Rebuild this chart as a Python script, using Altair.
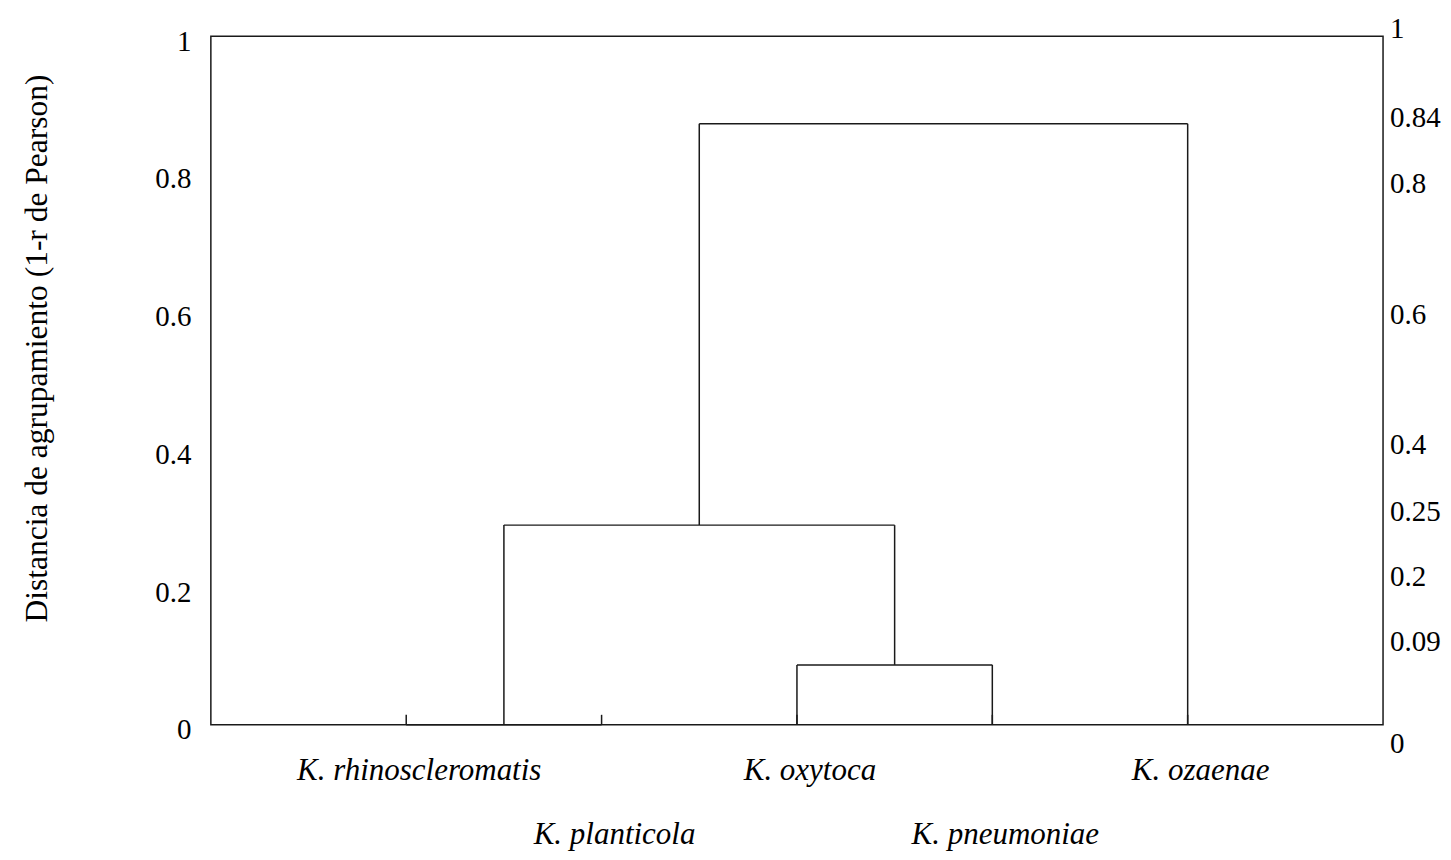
import altair as alt
import pandas as pd

# ---- data -------------------------------------------------------------
leaf_names = ["K. rhinoscleromatis", "K. planticola", "K. oxytoca",
              "K. pneumoniae", "K. ozaenae"]
leaf_row = [0, 1, 0, 1, 0]          # label row under the axis
# merges: children ids (0-4 leaves, 5.. clusters in merge order)
merge_left = [0, 2, 5, 7]
merge_right = [1, 3, 6, 4]
merge_height = [0.0, 0.087, 0.29, 0.873]
leaf_stub = 0.0145

left_ticks = [0, 0.2, 0.4, 0.6, 0.8, 1]
right_label_text = ["1", "0.84", "0.8", "0.6", "0.4", "0.25", "0.2", "0.09", "0"]
right_label_pos = [1.01, 0.882, 0.785, 0.595, 0.406, 0.309, 0.215, 0.120, -0.028]

# ---- build dendrogram segments ----------------------------------------
pos = {i: float(i) for i in range(len(leaf_names))}
hgt = {i: 0.0 for i in range(len(leaf_names))}
segs = []
for i in range(len(leaf_names)):
    segs.append(dict(x=pos[i], x2=pos[i], y=0.0, y2=leaf_stub))
for k, (a, b, h) in enumerate(zip(merge_left, merge_right, merge_height)):
    cid = len(leaf_names) + k
    segs.append(dict(x=pos[a], x2=pos[a], y=hgt[a], y2=h))
    segs.append(dict(x=pos[b], x2=pos[b], y=hgt[b], y2=h))
    segs.append(dict(x=pos[a], x2=pos[b], y=h, y2=h))
    pos[cid] = (pos[a] + pos[b]) / 2
    hgt[cid] = h
seg_df = pd.DataFrame(segs)

labels_df = pd.DataFrame({"name": leaf_names, "idx": list(range(len(leaf_names))),
                          "row": leaf_row, "y": [0.0] * len(leaf_names)})
right_df = pd.DataFrame({"text": right_label_text, "pos": right_label_pos})

FONT = "Liberation Serif"
xs = alt.Scale(domain=[-1, 5], nice=False, zero=False)
ys = alt.Scale(domain=[0, 1], nice=False, zero=False)

lines = alt.Chart(seg_df).mark_rule(color="#1a1a1a", strokeWidth=1.5).encode(
    x=alt.X("x:Q", scale=xs, axis=None),
    x2="x2:Q",
    y=alt.Y("y:Q", scale=ys, axis=alt.Axis(
        values=left_ticks, format="~g", title="Distancia de agrupamiento (1-r de Pearson)",
        grid=False, ticks=False, tickSize=0, domain=False,
        labelFont=FONT, labelFontSize=29, labelColor="black",
        labelAlign="right", labelBaseline="middle", labelPadding=20, labelOffset=5,
        titleFont=FONT, titleFontSize=31.5, titleFontWeight="normal", titleColor="black",
        titleAngle=270, titleX=-173, titleY=312, titleAlign="center", titleBaseline="middle")),
    y2="y2:Q",
)

def species(row, dy):
    return alt.Chart(labels_df).transform_filter(alt.datum.row == row).mark_text(
        font=FONT, fontSize=31, fontStyle="italic", color="black",
        align="center", baseline="middle", dx=13, dy=dy
    ).encode(x=alt.X("idx:Q", scale=xs), y=alt.Y("y:Q", scale=ys), text="name:N")

right = alt.Chart(right_df).mark_text(
    font=FONT, fontSize=29, color="black", align="left", baseline="middle", dx=7
).encode(x=alt.value(1173), y=alt.Y("pos:Q", scale=ys), text="text:N")

chart = alt.layer(lines, species(0, 46), species(1, 110), right).properties(
    width=1173, height=689,
    background="white",
    autosize=alt.AutoSizeParams(type="none"),
    padding={"left": 203, "top": 28, "right": 60, "bottom": 130},
).configure_view(stroke="#1a1a1a", strokeWidth=1.5)

chart.save("out.html", embed_options={"renderer": "svg", "actions": False})
